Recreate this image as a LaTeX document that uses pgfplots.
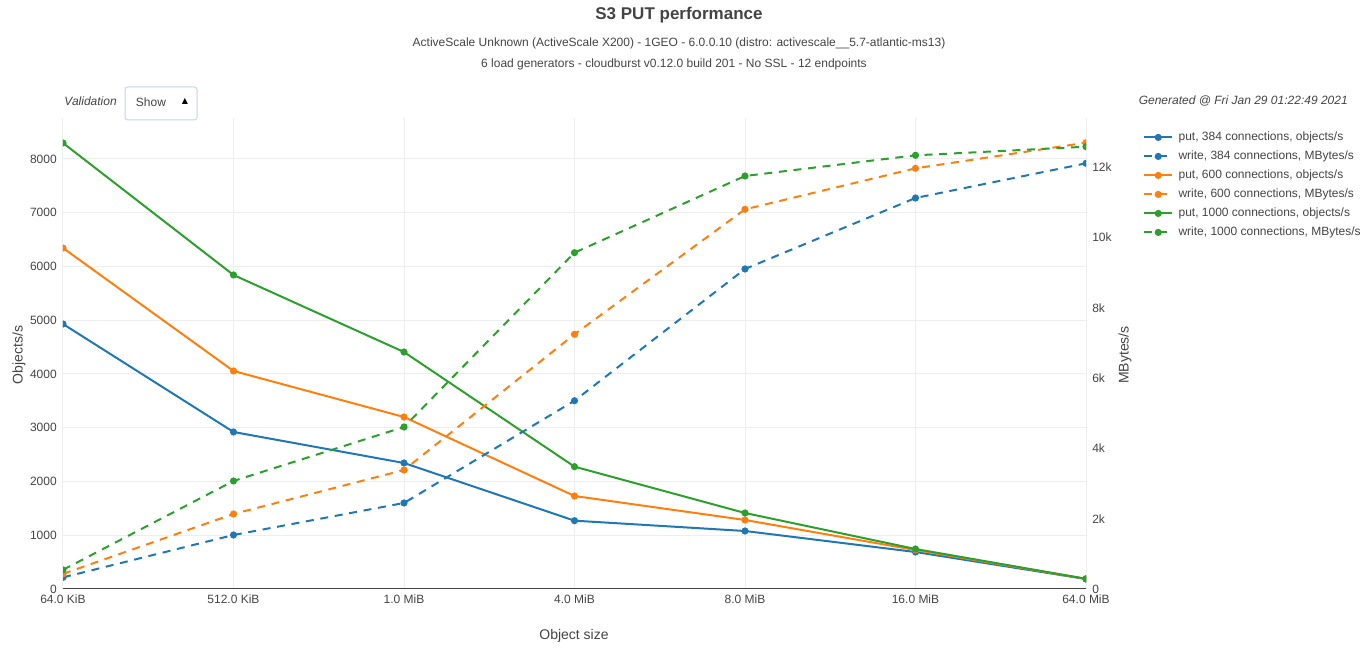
\documentclass[border=0pt]{standalone}
\usepackage{fontspec}
\setmainfont{Liberation Sans}
\newfontfamily\dejavu{DejaVu Sans}
\usepackage{pgfplots}
\usepackage{pgfplotstable}
\pgfplotsset{compat=1.18}

\definecolor{c1}{HTML}{1F77B4}
\definecolor{c2}{HTML}{FF7F0E}
\definecolor{c3}{HTML}{2CA02C}
\definecolor{txt}{HTML}{444444}
\definecolor{gridc}{HTML}{EEEEEE}
\definecolor{boxc}{HTML}{C8D4E3}

% objects/s (left axis)
\pgfplotstableread{
x put384 put600 put1000
0 4930 6344 8298
1 2921 4056 5842
2 2344 3200 4409
3 1271 1730 2276
4 1079 1284 1414
5 688 725 744
6 185 188 190
}\puttable

% MBytes/s (right axis)
\pgfplotstableread{
x w384 w600 w1000
0 330 430 545
1 1536 2134 3073
2 2447 3385 4609
3 5357 7246 9568
4 9104 10802 11750
5 11124 11968 12338
6 12110 12697 12583
}\writetable

\pgfplotsset{
  ser/.style={color=#1, line width=1.5pt, mark=*, mark size=1.9pt, mark options={solid}},
  dser/.style={ser=#1, dash pattern=on 6pt off 5pt},
  common/.style={
    scale only axis, width=767.25pt, height=353.25pt,
    at={(47.25pt,47.25pt)}, anchor=south west,
    xmin=0, xmax=6, ymin=0,
    enlargelimits=false,
    clip marker paths=true,
    major tick length=0pt,
    scaled y ticks=false,
    tick label style={font=\fontsize{9}{10}\selectfont, color=txt},
    /pgf/number format/assume math mode=true,
    /pgf/number format/1000 sep={},
  },
}

\begin{document}
\begin{tikzpicture}
\begin{scope}[x=0.75pt, y=0.75pt]
\path[use as bounding box] (0,0) rectangle (1365,652);
\end{scope}

\begin{axis}[common,
  ymax=8763,
  axis x line*=bottom, axis y line*=left,
  x axis line style={-, color=txt, line width=0.75pt},
  y axis line style={draw=none},
  xtick={0,...,6},
  xticklabels={64.0 KiB, 512.0 KiB, 1.0 MiB, 4.0 MiB, 8.0 MiB, 16.0 MiB, 64.0 MiB},
  ytick={0,1000,...,8000},
  xmajorgrids, ymajorgrids,
  grid style={gridc, line width=0.75pt},
  yticklabel style={inner xsep=4.5pt},
  xticklabel style={inner ysep=4pt},
  legend cell align=left,
  legend style={at={(axis description cs:1.0557,0.972)}, anchor=north west,
    draw=none, fill=none, inner sep=0pt, row sep=5.25pt,
    font=\fontsize{9}{10}\selectfont, text=txt,
    nodes={inner sep=0pt, text height=7pt, text depth=2pt},
    /tikz/every odd column/.append style={column sep=4pt}},
  legend image code/.code={\draw[mark repeat=2,mark phase=2] plot coordinates {(0pt,0pt)(10.5pt,0pt)(21pt,0pt)};},
]
\addplot[ser=c1] table[x=x, y=put384] {\puttable};
\addlegendentry{put, 384 connections, objects/s}
\addlegendimage{dser=c1}
\addlegendentry{write, 384 connections, MBytes/s}
\addplot[ser=c2] table[x=x, y=put600] {\puttable};
\addlegendentry{put, 600 connections, objects/s}
\addlegendimage{dser=c2}
\addlegendentry{write, 600 connections, MBytes/s}
\addplot[ser=c3] table[x=x, y=put1000] {\puttable};
\addlegendentry{put, 1000 connections, objects/s}
\addlegendimage{dser=c3}
\addlegendentry{write, 1000 connections, MBytes/s}
\end{axis}

\begin{axis}[common,
  ymax=13400,
  axis x line=none, axis y line*=right,
  y axis line style={draw=none},
  ytick={0,2000,...,12000},
  yticklabels={0,2k,4k,6k,8k,10k,12k},
  yticklabel style={inner xsep=4.5pt},
]
\addplot[dser=c1] table[x=x, y=w384] {\writetable};
\addplot[dser=c2] table[x=x, y=w600] {\writetable};
\addplot[dser=c3] table[x=x, y=w1000] {\writetable};
\end{axis}

\begin{scope}[x=0.75pt, y=0.75pt]
% titles and labels
\node[font=\fontsize{12.75}{15}\selectfont\bfseries, text=txt] at (679,637) {S3 PUT performance};
\node[font=\fontsize{9}{10}\selectfont, text=txt] at (679,609) {ActiveScale Unknown (ActiveScale X200) - 1GEO - 6.0.0.10 (distro: activescale\_\_5.7-atlantic-ms13)};
\node[font=\fontsize{9}{10}\selectfont, text=txt] at (674,588) {6 load generators - cloudburst v0.12.0 build 201 - No SSL - 12 endpoints};

\node[font=\fontsize{10.5}{12}\selectfont, text=txt, rotate=90] at (19,297) {Objects/s};
\node[font=\fontsize{10.5}{12}\selectfont, text=txt, rotate=90] at (1125,297) {MBytes/s};
\node[font=\fontsize{10.5}{12}\selectfont, text=txt] at (574,16) {Object size};

\node[font=\fontsize{9}{10}\selectfont\itshape, text=txt, anchor=east, inner xsep=0pt] at (117,551) {Validation};
\draw[boxc, fill=white, line width=0.75pt, rounded corners=2pt] (125,532) rectangle (197,565);
\node[font=\fontsize{9}{10}\selectfont, text=txt] at (151,550) {Show};
\node[font=\fontsize{6}{7}\selectfont\dejavu, text=black] at (185,551) {▲};

\node[font=\fontsize{9}{10}\selectfont\itshape, text=txt, anchor=east, inner xsep=0pt] at (1348,551) {Generated @ Fri Jan 29 01:22:49 2021};
\end{scope}
\end{tikzpicture}
\end{document}
